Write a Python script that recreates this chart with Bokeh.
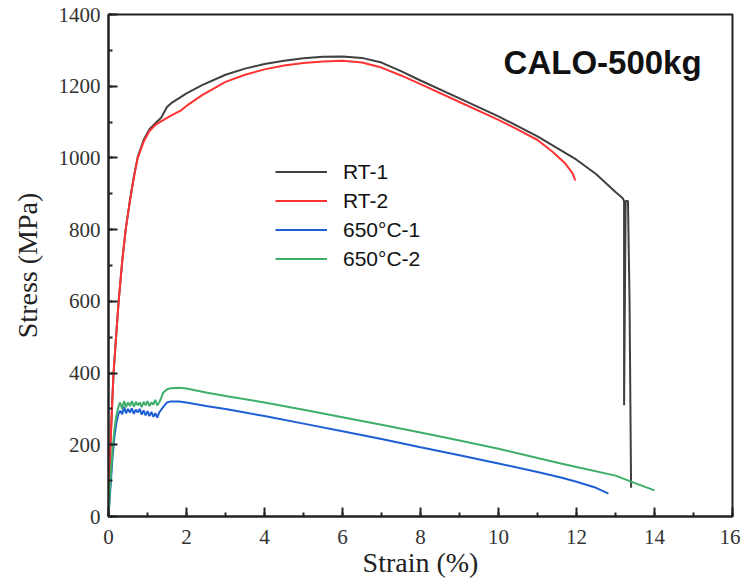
from bokeh.plotting import figure
from bokeh.models import Range1d, SingleIntervalTicker, Legend, LegendItem, Label
from bokeh.embed import file_html
from bokeh.resources import INLINE

# ---- data ----
rt1_strain = [0, 0.05, 0.1, 0.13, 0.2, 0.26, 0.35, 0.44, 0.55, 0.65, 0.75, 0.9, 1.05, 1.2, 1.35,
              1.5, 1.6, 1.8, 2.0, 2.4, 3.0, 3.5, 4.0, 4.5, 5.0, 5.5, 6.0, 6.5, 7.0, 7.5, 8.0,
              9.0, 10.0, 11.0, 12.0, 12.5, 13.0, 13.18, 13.22, 13.22, 13.26, 13.32, 13.36, 13.4]
rt1_stress = [0, 200, 330, 400, 510, 600, 710, 800, 882, 948, 1003, 1050, 1080, 1097, 1112,
              1142, 1152, 1166, 1180, 1203, 1232, 1249, 1262, 1271, 1278, 1282, 1283, 1279,
              1266, 1242, 1216, 1166, 1116, 1060, 995, 955, 905, 888, 880, 310, 880, 880, 600, 80]

rt2_strain = [0, 0.05, 0.1, 0.13, 0.2, 0.26, 0.35, 0.44, 0.55, 0.65, 0.75, 0.9, 1.05, 1.2, 1.35,
              1.6, 1.85, 2.0, 2.4, 3.0, 3.5, 4.0, 4.5, 5.0, 5.5, 6.0, 6.5, 7.0, 7.5, 8.0, 9.0,
              10.0, 10.5, 11.0, 11.4, 11.7, 11.9, 11.97]
rt2_stress = [0, 200, 330, 400, 510, 600, 710, 800, 880, 945, 1000, 1045, 1075, 1092, 1102,
              1118, 1132, 1145, 1175, 1212, 1232, 1247, 1258, 1265, 1269, 1271, 1266, 1252,
              1230, 1206, 1156, 1106, 1079, 1050, 1016, 986, 957, 937]

c1_strain = [0, 0.05, 0.1, 0.15, 0.2, 0.25, 0.3, 0.35, 0.4, 0.45, 0.5, 0.55, 0.6, 0.65, 0.7,
             0.75, 0.8, 0.85, 0.9, 0.95, 1.0, 1.05, 1.1, 1.15, 1.2, 1.25, 1.3, 1.4, 1.5, 1.6,
             1.8, 2.0, 2.5, 3.0, 4.0, 5.0, 6.0, 7.0, 8.0, 9.0, 10.0, 11.0, 11.6, 12.0, 12.5, 12.82]
c1_stress = [0, 80, 160, 220, 260, 285, 295, 285, 305, 288, 300, 290, 302, 286, 298,
             290, 300, 284, 296, 282, 294, 280, 292, 278, 288, 276, 290, 305, 318, 321,
             321, 318, 308, 300, 280, 259, 238, 216, 193, 171, 148, 124, 109, 97, 80, 64]

c2_strain = [0, 0.05, 0.1, 0.15, 0.2, 0.25, 0.3, 0.35, 0.4, 0.45, 0.5, 0.55, 0.6, 0.65, 0.7,
             0.75, 0.8, 0.85, 0.9, 0.95, 1.0, 1.05, 1.1, 1.15, 1.2, 1.25, 1.3, 1.35, 1.4, 1.5,
             1.6, 1.8, 2.0, 2.5, 3.0, 4.0, 5.0, 6.0, 7.0, 8.0, 9.0, 10.0, 11.0, 11.6, 12.0,
             13.0, 13.5, 14.0]
c2_stress = [0, 100, 180, 240, 280, 305, 318, 300, 322, 305, 318, 308, 322, 306, 320,
             310, 318, 305, 320, 310, 322, 308, 318, 312, 325, 310, 318, 330, 345, 355,
             358, 359, 357, 346, 336, 318, 298, 277, 256, 234, 212, 189, 163, 148, 138,
             114, 93, 73]

series_names = ["RT-1", "RT-2", "650°C-1", "650°C-2"]
series_colors = ["#404040", "#ff3333", "#1f5fd6", "#3fae6a"]

x_ticks_interval = 2
y_ticks_interval = 200
title_text = "CALO-500kg"

# ---- figure ----
p = figure(width=740, height=584, output_backend="svg", toolbar_location=None,
           x_range=Range1d(0, 16), y_range=Range1d(0, 1400),
           min_border_left=108, min_border_right=8, min_border_top=14, min_border_bottom=68)
p.background_fill_color = "white"
p.border_fill_color = "white"
p.xgrid.visible = False
p.ygrid.visible = False
p.outline_line_color = "#222222"
p.outline_line_width = 2

p.xaxis.ticker = SingleIntervalTicker(interval=x_ticks_interval, num_minor_ticks=2)
p.yaxis.ticker = SingleIntervalTicker(interval=y_ticks_interval, num_minor_ticks=2)

for ax in (p.xaxis[0], p.yaxis[0]):
    ax.axis_line_color = "#222222"
    ax.axis_line_width = 2
    ax.major_tick_line_color = "#222222"
    ax.minor_tick_line_color = "#222222"
    ax.major_tick_line_width = 2
    ax.minor_tick_line_width = 2
    ax.major_tick_in = 9
    ax.major_tick_out = 0
    ax.minor_tick_in = 4
    ax.minor_tick_out = 0
    ax.major_label_text_font = "Liberation Serif"
    ax.major_label_text_font_size = "21px"
    ax.major_label_text_color = "#333333"
    ax.axis_label_text_font = "Liberation Serif"
    ax.axis_label_text_font_size = "28px"
    ax.axis_label_text_font_style = "normal"
    ax.axis_label_text_color = "#222222"

p.xaxis.axis_label = "Strain (%)"
p.yaxis.axis_label = "Stress (MPa)"
p.xaxis.major_label_standoff = 13
p.yaxis.major_label_standoff = 8
p.xaxis.axis_label_standoff = 0
p.yaxis.axis_label_standoff = 13

data = [(rt1_strain, rt1_stress), (rt2_strain, rt2_stress),
        (c1_strain, c1_stress), (c2_strain, c2_stress)]
renderers = []
for (xs, ys), col in zip(data, series_colors):
    renderers.append(p.line(xs, ys, line_color=col, line_width=2))

legend = Legend(items=[LegendItem(label=n, renderers=[r]) for n, r in zip(series_names, renderers)],
                location=(167, 243), orientation="vertical")
legend.border_line_alpha = 0
legend.background_fill_alpha = 0
legend.padding = 0
legend.margin = 0
legend.spacing = 0
legend.glyph_width = 52
legend.glyph_height = 29
legend.label_height = 29
legend.label_standoff = 16
legend.label_text_font = "Liberation Sans"
legend.label_text_font_size = "21px"
legend.label_text_color = "#111111"
p.add_layout(legend, "center")

title = Label(x=10.13, y=1266, text=title_text, text_font="Liberation Sans",
              text_font_size="33px", text_font_style="bold", text_color="#111111",
              text_baseline="alphabetic", text_align="left")
p.add_layout(title)

open("out.html", "w").write(file_html(p, INLINE))
